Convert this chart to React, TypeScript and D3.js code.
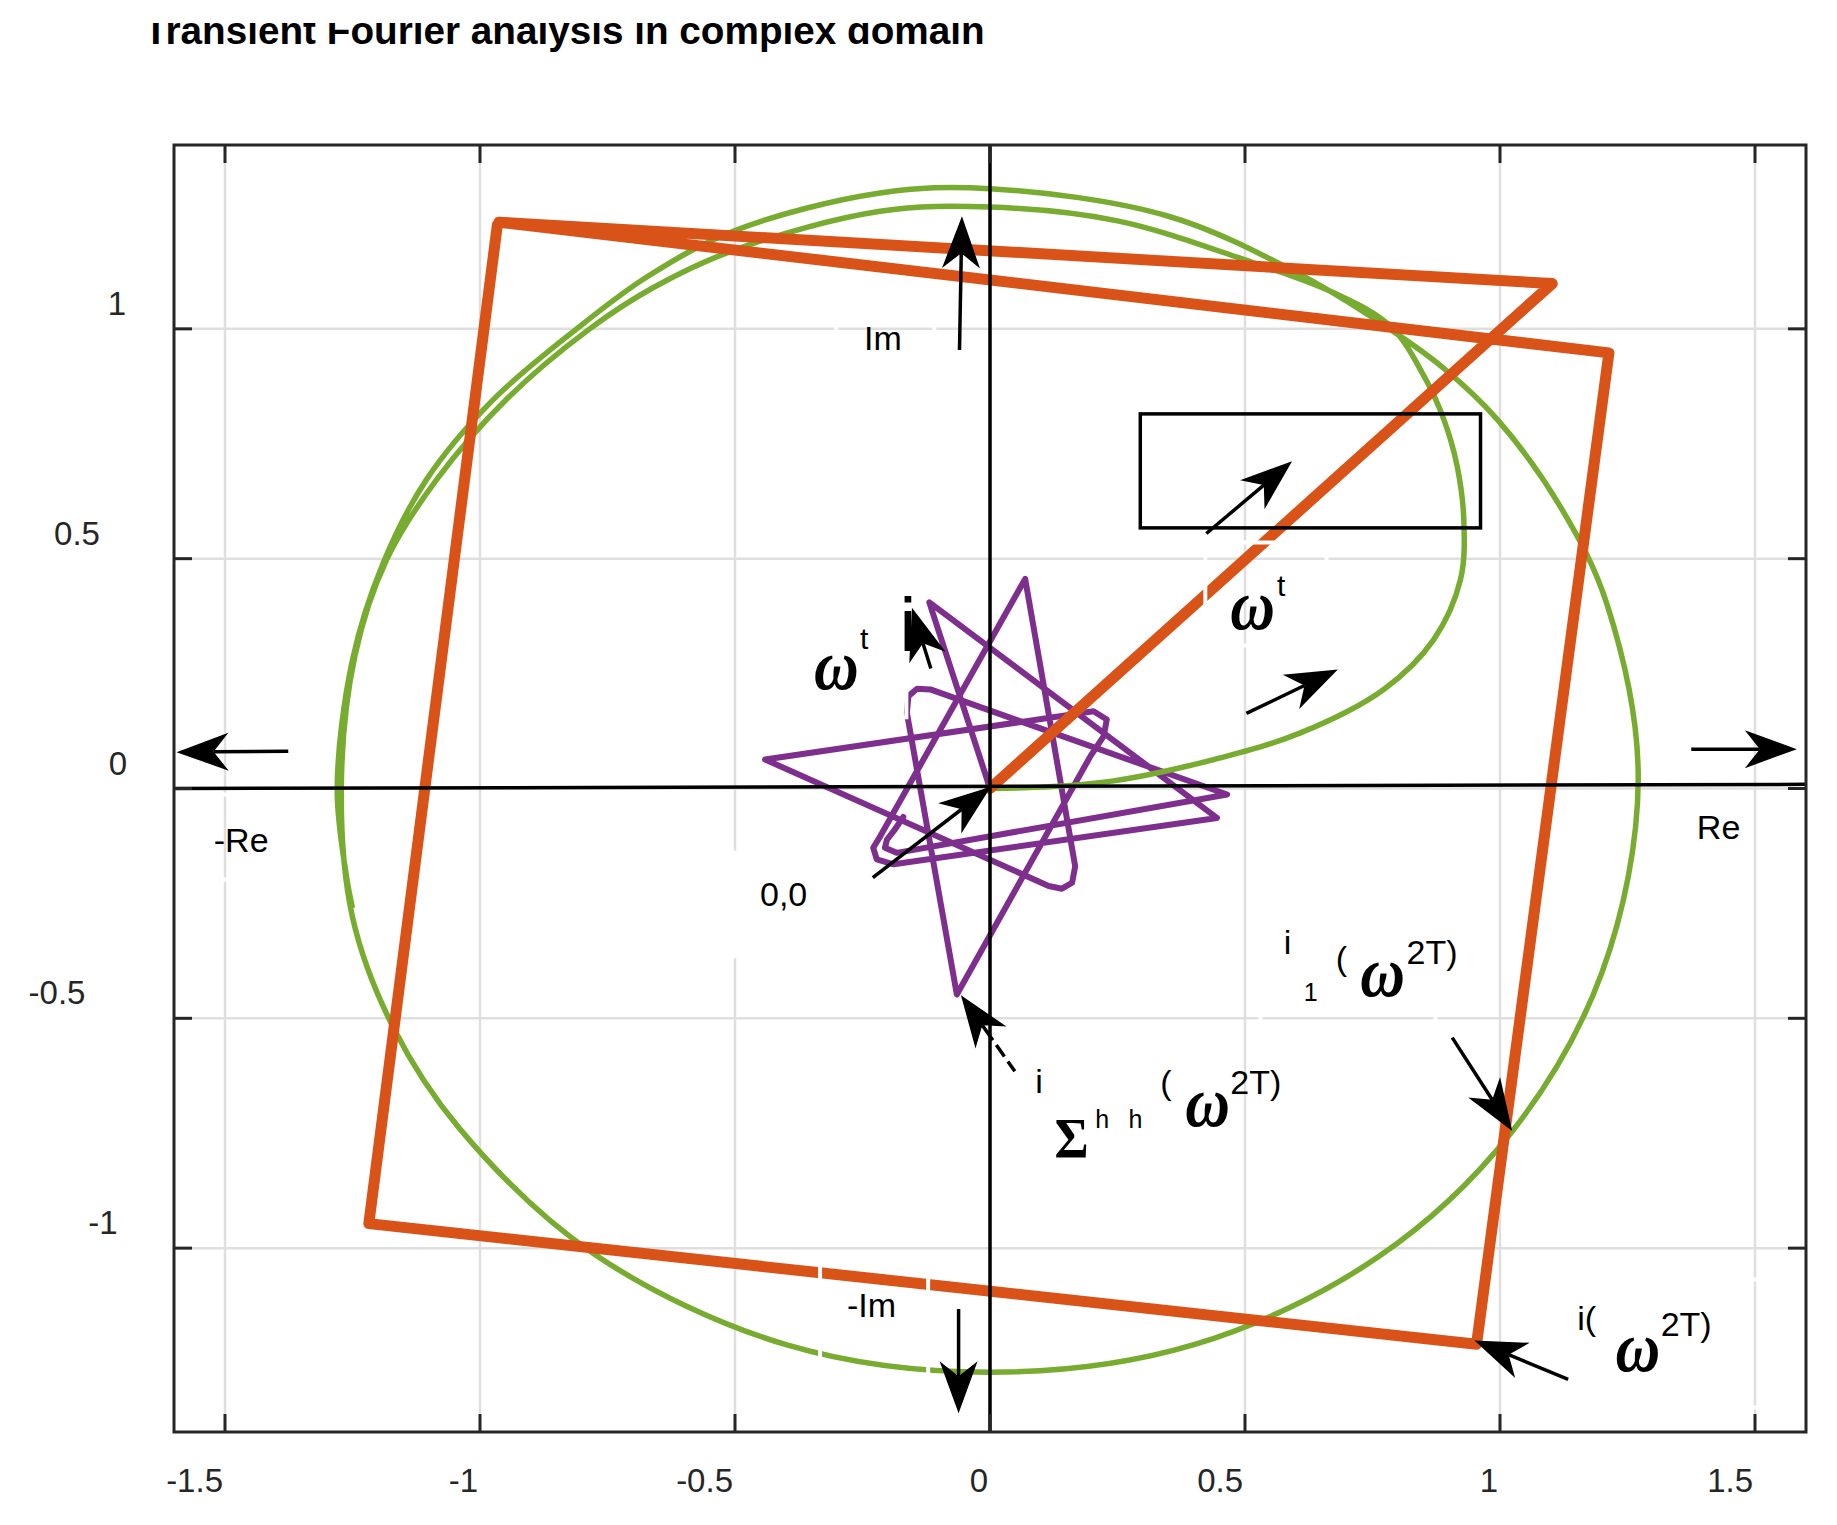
import React from "react";
import * as d3 from "d3";

type Pt = [number, number];

const W = 1837;
const H = 1525;

const title = "Transient Fourier analysis in complex domain";
const xTicks = [-1.5, -1, -0.5, 0, 0.5, 1, 1.5];
const yTicks = [-1, -0.5, 0, 0.5, 1];

// green: leaves the origin, spirals out and goes round about one and a half turns
const greenTrace: Pt[] = [
  [0, 0], [0.1, 0.003], [0.239, 0.016], [0.4385, 0.063], [0.6086, 0.121],
  [0.772, 0.2155], [0.87, 0.324], [0.9226, 0.4548], [0.929, 0.585],
  [0.916, 0.701], [0.89, 0.8025], [0.851, 0.897], [0.785, 1.006],
  [0.673, 1.079], [0.5, 1.15], [0.25, 1.235], [0, 1.265], [-0.2154, 1.2558],
  [-0.5, 1.172], [-0.66, 1.09], [-0.785, 1.0], [-0.945, 0.85], [-1.085, 0.672],
  [-1.183, 0.498], [-1.245, 0.29], [-1.272, 0], [-1.25, -0.28],
  [-1.17, -0.52], [-1.04, -0.74], [-0.78, -1.01], [-0.4, -1.21], [0, -1.27],
  [0.4, -1.21], [0.76, -1.02], [1.021, -0.75], [1.2, -0.4], [1.271, 0.02],
  [1.21, 0.4], [1.12, 0.61], [0.9946, 0.803], [0.8898, 0.9142],
  [0.7656, 1.013], [0.6087, 1.118], [0.35, 1.245], [0, 1.305],
  [-0.2154, 1.2957], [-0.5, 1.214], [-0.67, 1.115], [-0.8105, 1.0],
  [-0.975, 0.845], [-1.105, 0.672], [-1.19, 0.49], [-1.25, 0.28], [-1.28, 0],
  [-1.262, -0.19], [-1.25, -0.26],
];

// orange: the rotating square, starting from the origin
const orangeTrace: Pt[] = [
  [0, 0], [1.1025, 1.0985], [-0.963, 1.232], [1.2136, 0.9478],
  [0.954, -1.209], [-1.218, -0.9466], [-0.966, 1.226],
];

// purple: sum of the harmonics, sharp tips and rounded loops
const purpleTrace: Pt[] = [
  [0, 0],
  [-0.119, 0.405],
  [0.445, -0.064],
  [-0.189, -0.165], [-0.222, -0.154], [-0.229, -0.129], [-0.215, -0.1035],
  [0.069, 0.456],
  [0.167, -0.169], [0.161, -0.205], [0.141, -0.218], [0.115, -0.212],
  [-0.441, 0.063],
  [0.203, 0.168], [0.229, 0.15], [0.223, 0.114], [0.197, 0.0705],
  [-0.065, -0.448],
  [-0.163, 0.165], [-0.16, 0.201], [-0.143, 0.217], [-0.117, 0.2155],
  [0.465, -0.013],
  [-0.183, -0.14], [-0.206, -0.129], [-0.202, -0.111], [-0.189, -0.093],
  [-0.17, -0.062],
];

// the black Re / Im axes through the origin
const axisLines: Pt[][] = [
  [[-1.6, 0], [1.6, 0.009]],
  [[0, -1.4], [0, 1.4]],
];

const arrows: { from: Pt; to: Pt; dash?: string }[] = [
  { from: [-0.0598, 0.954], to: [-0.055, 1.245] },
  { from: [-0.0616, -1.1325], to: [-0.0616, -1.359] },
  { from: [-1.376, 0.0813], to: [-1.595, 0.079] },
  { from: [1.375, 0.0855], to: [1.582, 0.0855] },
  { from: [0.4242, 0.5548], to: [0.5923, 0.712] },
  { from: [0.5027, 0.1633], to: [0.682, 0.259] },
  { from: [-0.2298, -0.194], to: [0.0018, 0.004] },
  { from: [-0.116, 0.261], to: [-0.153, 0.393] },
  { from: [0.0487, -0.615], to: [-0.057, -0.4496], dash: "12 6 14 6 1000" },
  { from: [0.9063, -0.542], to: [1.024, -0.745] },
  { from: [1.1337, -1.2853], to: [0.9498, -1.201] },
];

// black frame in the upper right
const frames: [Pt, Pt][] = [[[0.2947, 0.815], [0.9618, 0.567]]];

// white borders of the text boxes, they cut the lines under them
const textBoxes: [Pt, Pt][] = [
  [[0.4222, 0.5352], [0.6597, 0.3112]],
  [[1.119, -1.0685], [1.57, -1.3468]],
  [[0.5303, -0.3067], [0.8734, -0.5661]],
  [[-0.3015, 1.064], [-0.1093, 0.9225]],
  [[-0.3332, -1.0133], [-0.1213, -1.2852]],
  [[-0.5, -0.1394], [-0.294, -0.365]],
  [[-1.569, -0.0133], [-1.294, -0.1982]],
  [[-0.3724, 0.4221], [-0.164, 0.155]],
];

const labels: { text: string; at: Pt; kind: string }[] = [
  { text: "Im", at: [-0.247, 0.955], kind: "text" },
  { text: "-Im", at: [-0.2806, -1.1503], kind: "text" },
  { text: "-Re", at: [-1.522, -0.1383], kind: "text" },
  { text: "Re", at: [1.386, -0.1107], kind: "text" },
  { text: "0,0", at: [-0.451, -0.2557], kind: "text" },
  { text: "ω", at: [0.4713, 0.346], kind: "omega" },
  { text: "t", at: [0.5629, 0.4184], kind: "sup" },
  { text: "ω", at: [-0.345, 0.2155], kind: "omega" },
  { text: "t", at: [-0.2547, 0.3025], kind: "sup" },
  { text: "i", at: [-0.1776, 0.2988], kind: "tall" },
  { text: "i(", at: [1.1515, -1.1786], kind: "text" },
  { text: "ω", at: [1.2267, -1.2665], kind: "omega" },
  { text: "2T)", at: [1.315, -1.1905], kind: "text" },
  { text: "i", at: [0.5758, -0.3607], kind: "text" },
  { text: "1", at: [0.615, -0.4624], kind: "small" },
  { text: "(", at: [0.678, -0.3956], kind: "text" },
  { text: "ω", at: [0.7262, -0.4515], kind: "omega" },
  { text: "2T)", at: [0.8166, -0.3825], kind: "text" },
  { text: "i", at: [0.0887, -0.6616], kind: "text" },
  { text: "Σ", at: [0.1265, -0.8046], kind: "sigma" },
  { text: "h", at: [0.2064, -0.7377], kind: "small" },
  { text: "h", at: [0.2717, -0.7377], kind: "small" },
  { text: "(", at: [0.334, -0.6646], kind: "text" },
  { text: "ω", at: [0.383, -0.734], kind: "omega" },
  { text: "2T)", at: [0.4713, -0.665], kind: "text" },
];

const sans = "'Liberation Sans', Arial, Helvetica, sans-serif";
const serif = "'Liberation Serif', 'Times New Roman', serif";

const labelStyle: Record<string, React.CSSProperties> = {
  text: { fontFamily: sans, fontSize: 34 },
  sup: { fontFamily: sans, fontSize: 30 },
  small: { fontFamily: sans, fontSize: 25 },
  tall: { fontFamily: sans, fontSize: 76 },
  omega: { fontFamily: serif, fontSize: 72, fontStyle: "italic", fontWeight: "bold" },
  sigma: { fontFamily: serif, fontSize: 58, fontWeight: "bold" },
};
// the omegas are a little narrower than the serif font draws them
const squeeze: Record<string, number> = { omega: 0.86, sigma: 0.9 };

// the y tick labels in the figure do not line up, each sits at its own centre
const yLabelCentre: Record<string, number> = { "1": 117, "0.5": 77, "0": 118, "-0.5": 57, "-1": 103 };

function Arrow({ x1, y1, x2, y2, dash }: { x1: number; y1: number; x2: number; y2: number; dash?: string }) {
  const a = Math.atan2(y2 - y1, x2 - x1);
  const ux = Math.cos(a);
  const uy = Math.sin(a);
  const len = 52;
  const half = 19;
  const notch = 37;
  const bx = x2 - ux * len;
  const by = y2 - uy * len;
  const nx = x2 - ux * notch;
  const ny = y2 - uy * notch;
  const head = `M${x2},${y2}L${bx - uy * half},${by + ux * half}L${nx},${ny}L${bx + uy * half},${by - ux * half}Z`;
  return (
    <g>
      <line x1={x1} y1={y1} x2={nx} y2={ny} stroke="#000" strokeWidth={3.5} strokeDasharray={dash} />
      <path d={head} fill="#000" />
    </g>
  );
}

export default function App() {
  const x = d3.scaleLinear().domain([-1.6, 1.6]).range([174, 1806]);
  const y = d3.scaleLinear().domain([-1.4, 1.4]).range([1432, 145]);
  const [left, right] = x.range();
  const [bottom, top] = y.range();
  const tick = 18;

  const smooth = d3
    .line<Pt>()
    .x((d) => x(d[0]))
    .y((d) => y(d[1]))
    .curve(d3.curveCatmullRom.alpha(0.5));
  const straight = d3
    .line<Pt>()
    .x((d) => x(d[0]))
    .y((d) => y(d[1]));

  const rectOf = ([a, b]: [Pt, Pt]) => ({
    x: Math.min(x(a[0]), x(b[0])),
    y: Math.min(y(a[1]), y(b[1])),
    width: Math.abs(x(b[0]) - x(a[0])),
    height: Math.abs(y(b[1]) - y(a[1])),
  });

  return (
    <>
      <style>{"body{margin:0}"}</style>
      <svg width={W} height={H} style={{ display: "block", background: "#fff" }}>
        <defs>
          <clipPath id="titleClip">
            <rect x={0} y={23} width={W} height={80} />
          </clipPath>
        </defs>
        <rect width={W} height={H} fill="#fff" />

        {/* title, its top cut off */}
        <text
          x={144}
          y={44}
          clipPath="url(#titleClip)"
          fontFamily={sans}
          fontSize={38.7}
          fontWeight="bold"
          fill="#000"
        >
          {title}
        </text>

        {/* grid */}
        {xTicks.map((t) => (
          <line key={"gx" + t} x1={x(t)} x2={x(t)} y1={top} y2={bottom} stroke="#dfdfdf" strokeWidth={2.5} />
        ))}
        {yTicks.map((t) => (
          <line key={"gy" + t} x1={left} x2={right} y1={y(t)} y2={y(t)} stroke="#dfdfdf" strokeWidth={2.5} />
        ))}

        {/* traces */}
        <path d={straight(purpleTrace) ?? ""} fill="none" stroke="#7E2F8E" strokeWidth={6} strokeLinejoin="round" strokeLinecap="round" />
        <path d={smooth(greenTrace) ?? ""} fill="none" stroke="#77AC30" strokeWidth={5.5} />
        <path d={straight(orangeTrace) ?? ""} fill="none" stroke="#D95319" strokeWidth={11} strokeLinejoin="round" strokeLinecap="round" />

        {axisLines.map((l, i) => (
          <path key={"ax" + i} d={straight(l) ?? ""} stroke="#000" strokeWidth={3.5} fill="none" />
        ))}

        {/* axes box and ticks */}
        <rect x={left} y={top} width={right - left} height={bottom - top} fill="none" stroke="#262626" strokeWidth={3} />
        {xTicks.map((t) => (
          <g key={"tx" + t} stroke="#262626" strokeWidth={3}>
            <line x1={x(t)} x2={x(t)} y1={bottom} y2={bottom - tick} />
            <line x1={x(t)} x2={x(t)} y1={top} y2={top + tick} />
          </g>
        ))}
        {yTicks.map((t) => (
          <g key={"ty" + t} stroke="#262626" strokeWidth={3}>
            <line x1={left} x2={left + tick} y1={y(t)} y2={y(t)} />
            <line x1={right} x2={right - tick} y1={y(t)} y2={y(t)} />
          </g>
        ))}
        {xTicks.map((t) => (
          <text key={"lx" + t} x={x(t) - 2} y={1492} textAnchor="end" fontFamily={sans} fontSize={33} fill="#262626">
            {String(t)}
          </text>
        ))}
        {yTicks.map((t) => (
          <text
            key={"ly" + t}
            x={yLabelCentre[String(t)] ?? 110}
            y={y(t) - 14}
            textAnchor="middle"
            fontFamily={sans}
            fontSize={33}
            fill="#262626"
          >
            {String(t)}
          </text>
        ))}

        {/* annotations */}
        {frames.map((f, i) => (
          <rect key={"fr" + i} {...rectOf(f)} fill="none" stroke="#000" strokeWidth={3.5} />
        ))}
        {textBoxes.map((b, i) => (
          <rect key={"tb" + i} {...rectOf(b)} fill="none" stroke="#fff" strokeWidth={4} />
        ))}
        {arrows.map((a, i) => (
          <Arrow key={"ar" + i} x1={x(a.from[0])} y1={y(a.from[1])} x2={x(a.to[0])} y2={y(a.to[1])} dash={a.dash} />
        ))}
        {labels.map((l, i) => (
          <text
            key={"lb" + i}
            transform={`translate(${x(l.at[0])},${y(l.at[1])}) scale(${squeeze[l.kind] ?? 1},1)`}
            fill="#000"
            style={labelStyle[l.kind]}
          >
            {l.text}
          </text>
        ))}
      </svg>
    </>
  );
}
